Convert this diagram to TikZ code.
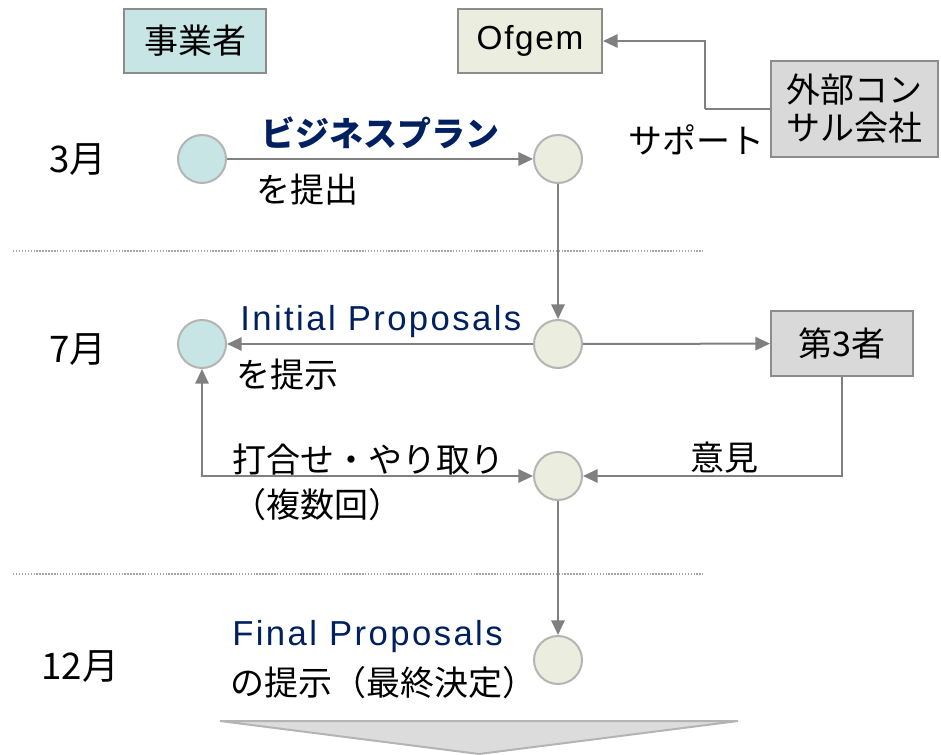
\documentclass[tikz,border=0pt]{standalone}
\usepackage{fontspec}
\setmainfont{Liberation Sans}
\newfontfamily\jp{Noto Sans CJK JP}
\usetikzlibrary{arrows.meta}
\definecolor{tealfill}{HTML}{C8E5E5}
\definecolor{greenfill}{HTML}{EBEEDF}
\definecolor{grayfill}{HTML}{D9D9D9}
\definecolor{boxborder}{HTML}{8C8C8C}
\definecolor{circborder}{HTML}{B4B4B4}
\definecolor{linegray}{HTML}{808080}
\definecolor{navy}{HTML}{002060}
\definecolor{chevfill}{HTML}{DCDCDC}
\definecolor{dotgray}{HTML}{A6A6A6}
\begin{document}
\begin{tikzpicture}[x=0.75pt,y=-0.75pt,
  jptext/.style={font=\jp\fontsize{25.5}{29}\selectfont, inner sep=0pt},
  monthtext/.style={font=\jp\fontsize{27.5}{31}\selectfont, inner sep=0pt},
  entext/.style={font=\fontsize{26}{30}\selectfont\addfontfeature{LetterSpace=7}, inner sep=0pt, text=navy},
  boxnode/.style={draw=boxborder, line width=1.5pt, inner sep=0pt, font=\jp\fontsize{25.5}{28.5}\selectfont, align=center},
  circ/.style={circle, draw=circborder, line width=1.5pt, minimum size=36pt, inner sep=0pt},
  arr/.style={draw=linegray, line width=1.5pt, -{Triangle[length=11pt,width=10pt]}},
  arrboth/.style={draw=linegray, line width=1.5pt, {Triangle[length=11pt,width=10pt]}-{Triangle[length=11pt,width=10pt]}},
  plainline/.style={draw=linegray, line width=1.5pt},
  dotline/.style={draw=dotgray, line width=1.3pt, dash pattern=on 1.1pt off 1.1pt}
]
\useasboundingbox (0,0) rectangle (941,755);

% header boxes
\node[boxnode, fill=tealfill, minimum width=106.5pt, minimum height=48pt] (op) at (195,41) {事業者};
\node[boxnode, fill=greenfill, minimum width=108pt, minimum height=48pt, font=\fontsize{25}{29}\selectfont\addfontfeature{LetterSpace=5}] (ofgem) at (530,41) {Ofgem};
\node[boxnode, fill=grayfill, minimum width=125pt, minimum height=72pt] (ext) at (854.5,109) {外部コン\\サル会社};
\node[boxnode, fill=grayfill, minimum width=106.5pt, minimum height=49pt] (third) at (842,343.5) {第3者};

% circles
\node[circ, fill=tealfill] (c1) at (202,159) {};
\node[circ, fill=greenfill] (c2) at (558,159) {};
\node[circ, fill=tealfill] (c7l) at (202,344) {};
\node[circ, fill=greenfill] (c7r) at (558,344) {};
\node[circ, fill=greenfill] (cm) at (558,476) {};
\node[circ, fill=greenfill] (cf) at (558,660) {};

% month labels
\node[monthtext] (m3) at (78,160) {3月};
\node[monthtext] (m7) at (78,350) {7月};
\node[monthtext] (m12) at (80,667) {12月};

% dotted separators
\draw[dotline] (13,251) -- (703,251);
\draw[dotline] (13,574) -- (703,574);

% texts
\node[jptext, font=\jp\bfseries\fontsize{25.5}{29}\selectfont, text=navy] (biz) at (380,133) {ビジネスプラン};
\node[jptext, anchor=west] (sub) at (256,190) {を提出};
\node[jptext] (sup) at (696,140) {サポート};
\node[entext, anchor=west] (init) at (240,322) {Initial Proposals};
\node[jptext, anchor=west] (pres) at (236,375) {を提示};
\node[jptext, anchor=west] (meet) at (232,460) {打合せ・やり取り};
\node[jptext, anchor=west] (mult) at (232,505) {（複数回）};
\node[jptext] (opin) at (724,458) {意見};
\node[entext, anchor=west] (fin) at (232,637) {Final Proposals};
\node[jptext, anchor=west] (finj) at (230,683) {の提示（最終決定）};

% connectors
\coordinate (bend) at (705,109);
\draw[plainline] (ext.west) -- (bend);
\draw[arr] (bend) |- (ofgem.east);
\draw[arr] (c1) -- (c2);
\draw[arr] (c2) -- (c7r);
\draw[arr] (c7r) -- (c7l);
\draw[arr] (c7r) -- (third);
\draw[arr] (third.south) |- (cm);
\draw[arrboth] (c7l) |- (cm);
\draw[arr] (cm) -- (cf);

% bottom chevron
\draw[draw=circborder, fill=chevfill, line width=1.5pt] (220,721) -- (738,721) -- (479,754) -- cycle;
\end{tikzpicture}
\end{document}
